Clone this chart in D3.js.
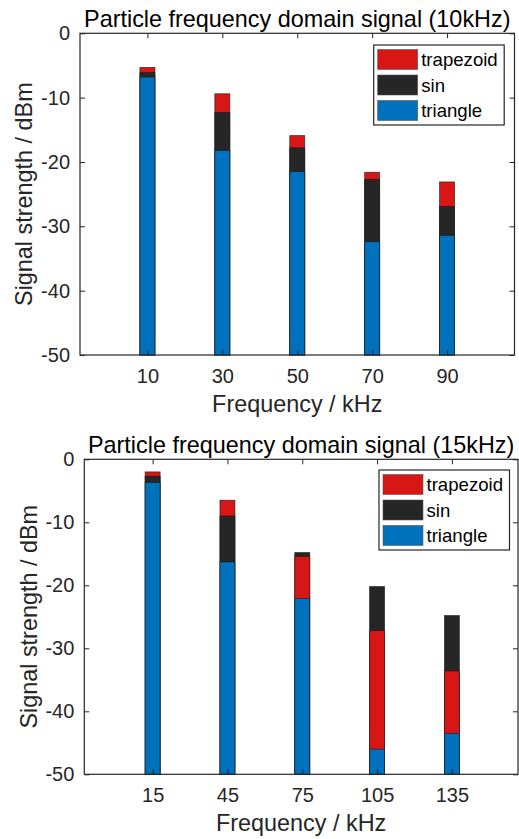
<!DOCTYPE html>
<html>
<head>
<meta charset="utf-8">
<script src="https://cdn.jsdelivr.net/npm/d3@7"></script>
<style>
  body { margin: 0; background: #fff; }
  text { font-family: "Liberation Sans", Arial, sans-serif; }
</style>
</head>
<body>
<script>
// values (dBm)
var series = ['trapezoid', 'sin', 'triangle']
var colors = {trapezoid: '#d91616', sin: '#262626', triangle: '#0072bd'}

var freq10 = [10, 30, 50, 70, 90]
var trapezoid10 = [-5.3, -9.4, -15.9, -21.6, -23.1]
var sin10 = [-6.1, -12.3, -17.8, -22.7, -26.9]
var triangle10 = [-6.8, -18.2, -21.5, -32.4, -31.4]

var freq15 = [15, 45, 75, 105, 135]
var trapezoid15 = [-2.0, -6.5, -15.4, -27.2, -33.6]
var sin15 = [-2.7, -9.0, -14.8, -20.2, -24.8]
var triangle15 = [-3.7, -16.3, -22.1, -46.0, -43.5]

var yTicks = [0, -10, -20, -30, -40, -50]

var width = 519, height = 839

var svg = d3.select('body')
	.append('svg')
	.attr('width', width)
	.attr('height', height)

function panel(cfg) {
	var x = d3.scaleLinear()
		.domain(cfg.xDomain)
		.range([cfg.left, cfg.right])
	var y = d3.scaleLinear()
		.domain([-50, 0])
		.range([cfg.bottom, cfg.top])

	var g = svg.append('g')

	// one record per bar, tallest drawn first so shorter ones sit in front
	var rows = []
	cfg.freq.forEach(function(f, i) {
		var set = series.map(function(s) { return {f: f, s: s, v: cfg.values[s][i]} })
		set.sort(function(a, b) { return b.v - a.v })
		set.forEach(function(d) { rows.push(d) })
	})

	var bw = x(cfg.barWidth) - x(0)
	g.append('g')
		.selectAll('rect')
		.data(rows).enter()
		.append('rect')
		.attr('x', d => x(d.f) - bw / 2)
		.attr('width', bw)
		.attr('y', d => y(d.v))
		.attr('height', d => y(-50) - y(d.v))
		.attr('fill', d => colors[d.s])
		.attr('stroke', '#1a1a1a')
		.attr('stroke-opacity', 0.75)
		.attr('stroke-width', 0.8)

	// axes (MATLAB box style, ticks inside)
	var ax = d3.axisBottom(x).tickValues(cfg.freq).tickSizeInner(-5).tickSizeOuter(0).tickPadding(14)
	var axTop = d3.axisTop(x).tickValues(cfg.freq).tickSizeInner(-5).tickSizeOuter(0).tickFormat('')
	var ay = d3.axisLeft(y).tickValues(yTicks).tickSizeInner(-5).tickSizeOuter(0).tickPadding(10)
	var ayRight = d3.axisRight(y).tickValues(yTicks).tickSizeInner(-5).tickSizeOuter(0).tickFormat('')

	var gx = g.append('g').attr('transform', 'translate(0,' + cfg.bottom + ')').call(ax)
	g.append('g').attr('transform', 'translate(0,' + cfg.top + ')').call(axTop)
	var gy = g.append('g').attr('transform', 'translate(' + cfg.left + ',0)').call(ay)
	g.append('g').attr('transform', 'translate(' + cfg.right + ',0)').call(ayRight)

	g.selectAll('.domain').remove()
	g.selectAll('.tick line').attr('stroke', '#262626')
	g.selectAll('.tick text').attr('fill', '#262626').style('font-size', '20px')
		.style('font-family', '"Liberation Sans", Arial, sans-serif')
	gx.selectAll('.tick text').attr('dy', '0.71em')
	gy.selectAll('.tick text').text(d => d === 0 ? '0' : String(d).replace('\u2212', '-'))

	g.append('rect')
		.attr('x', cfg.left)
		.attr('y', cfg.top)
		.attr('width', cfg.right - cfg.left)
		.attr('height', cfg.bottom - cfg.top)
		.attr('fill', 'none')
		.attr('stroke', '#262626')
		.attr('stroke-width', 1.2)

	var cx = (cfg.left + cfg.right) / 2
	g.append('text')
		.attr('x', cx)
		.attr('y', cfg.top - 6.5)
		.attr('text-anchor', 'middle')
		.style('font-size', '23.4px')
		.attr('fill', '#000')
		.text(cfg.title)

	g.append('text')
		.attr('x', cx)
		.attr('y', cfg.bottom + 56.5)
		.attr('text-anchor', 'middle')
		.style('font-size', '23.4px')
		.attr('fill', '#262626')
		.text('Frequency / kHz')

	g.append('text')
		.attr('transform', 'translate(' + cfg.yLabelX + ',' + ((cfg.top + cfg.bottom) / 2) + ') rotate(-90)')
		.attr('text-anchor', 'middle')
		.style('font-size', '23.4px')
		.attr('fill', '#262626')
		.text('Signal strength / dBm')

	// legend
	var lg = g.append('g').attr('transform', 'translate(' + cfg.legend[0] + ',' + cfg.legend[1] + ')')
	lg.append('rect')
		.attr('width', 130.5)
		.attr('height', 80)
		.attr('fill', '#fff')
		.attr('stroke', '#262626')
		.attr('stroke-width', 1.2)
	series.forEach(function(s, i) {
		lg.append('rect')
			.attr('x', 4)
			.attr('y', 4.5 + i * 25.5)
			.attr('width', 40)
			.attr('height', 20)
			.attr('fill', colors[s])
			.attr('stroke', '#555')
			.attr('stroke-width', 0.6)
		lg.append('text')
			.attr('x', 47.5)
			.attr('y', 14.5 + i * 25.5)
			.attr('dy', '0.35em')
			.style('font-size', '18.6px')
			.attr('fill', '#000')
			.text(s)
	})
}

panel({
	freq: freq10,
	values: {trapezoid: trapezoid10, sin: sin10, triangle: triangle10},
	xDomain: [-8, 108],
	barWidth: 4,
	left: 80, right: 514.5, top: 33.3, bottom: 355,
	yLabelX: 31.5,
	legend: [373.7, 45],
	title: 'Particle frequency domain signal (10kHz)'
})

panel({
	freq: freq15,
	values: {trapezoid: trapezoid15, sin: sin15, triangle: triangle15},
	xDomain: [-12.4, 161.5],
	barWidth: 6,
	left: 84.3, right: 518, top: 459.3, bottom: 774.3,
	yLabelX: 36.5,
	legend: [379, 470],
	title: 'Particle frequency domain signal (15kHz)'
})
</script>
</body>
</html>
